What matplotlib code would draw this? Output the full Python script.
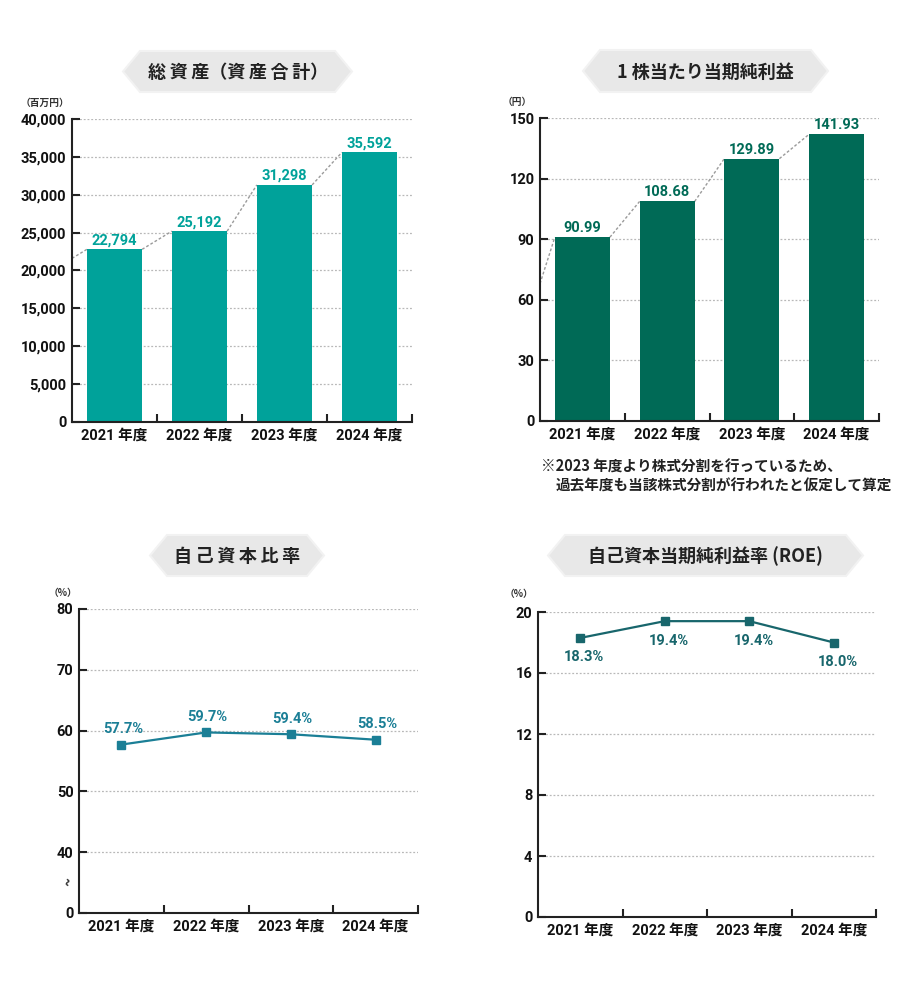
import matplotlib
matplotlib.use('Agg')
import matplotlib.pyplot as plt
from matplotlib.patches import Polygon
from matplotlib.ticker import FixedLocator

# ---------------- data ----------------
years = ['2021 年度', '2022 年度', '2023 年度', '2024 年度']

total_assets = [22794, 25192, 31298, 35592]          # 百万円
total_assets_lead = 21600                             # dotted guide value at left axis
total_assets_ticks = [0, 5000, 10000, 15000, 20000, 25000, 30000, 35000, 40000]

eps = [90.99, 108.68, 129.89, 141.93]                 # 円
eps_lead = 68                                         # dotted guide value at left axis
eps_ticks = [0, 30, 60, 90, 120, 150]

equity_ratio = [57.7, 59.7, 59.4, 58.5]               # %
equity_ticks = [30, 40, 50, 60, 70, 80]
equity_ticklabels = ['0', '40', '50', '60', '70', '80']

roe = [18.3, 19.4, 19.4, 18.0]                        # %
roe_ticks = [0, 4, 8, 12, 16, 20]

TS = '\u2009'
titles = [TS.join('総資産') + '（' + TS.join('資産合計') + '）', '1 株当たり当期純利益',
          TS.join('自己資本比率'), '自己資本当期純利益率 (ROE)']
units = ['（百万円）', '（円）', '（%）', '（%）']
footnote = ['※2023 年度より株式分割を行っているため、', '過去年度も当該株式分割が行われたと仮定して算定']

# ---------------- style ----------------
W, H = 909, 1000
C_ASSETS = '#00a29a'
C_EPS = '#006a56'
C_EQ = '#1b7f96'
C_ROE = '#18666c'
C_AXIS = '#222222'
C_GRID = '#b8b8b8'
BAR_W = 0.65

plt.rcParams['font.family'] = ['Roboto', 'Noto Sans CJK JP', 'DejaVu Sans']
plt.rcParams['font.weight'] = 'bold'

fig = plt.figure(figsize=(W / 100, H / 100), dpi=100)

# overlay for banners and free text (pixel coordinates)
ov = fig.add_axes([0, 0, 1, 1])
ov.set_xlim(0, W)
ov.set_ylim(H, 0)
ov.axis('off')
ov.patch.set_alpha(0)


def rect(l, t, r, b):
    return [l / W, 1 - b / H, (r - l) / W, (b - t) / H]


def banner(x0, x1, y0, y1, text, dx=0):
    d = 17
    yc = (y0 + y1) / 2
    pts = [(x0, yc), (x0 + d, y0), (x1 - d, y0), (x1, yc), (x1 - d, y1), (x0 + d, y1)]
    ov.add_patch(Polygon(pts, closed=True, facecolor='#e8e8e8', edgecolor='#f2f2f2', lw=1.5))
    ov.text((x0 + x1) / 2 + dx, yc + 1, text, ha='center', va='center', fontsize=13,
            color='#222222', fontweight='bold',
            family=['Noto Sans CJK JP', 'DejaVu Sans'])


def style_axes(ax, ticks, ticklabels, ylim):
    ax.set_xlim(-0.5, 3.5)
    ax.set_ylim(*ylim)
    for s in ['top', 'right']:
        ax.spines[s].set_visible(False)
    for s in ['left', 'bottom']:
        ax.spines[s].set_color(C_AXIS)
        ax.spines[s].set_linewidth(1.5)
    ax.set_yticks(ticks)
    ax.set_yticklabels(ticklabels)
    ax.tick_params(axis='y', direction='in', length=6, width=1.5, color=C_AXIS,
                   pad=4, labelsize=10.5, labelcolor='#111111')
    ax.set_xticks(range(len(years)))
    ax.set_xticklabels(years)
    ax.tick_params(axis='x', which='major', length=0, pad=5, labelsize=10.5,
                   labelcolor='#111111')
    ax.xaxis.set_minor_locator(FixedLocator([0.5, 1.5, 2.5, 3.5]))
    ax.tick_params(axis='x', which='minor', direction='in', length=6, width=1.5,
                   color=C_AXIS)
    for t in ticks[1:]:
        ax.axhline(t, color=C_GRID, lw=0.9, ls=(0, (1.5, 1.5)), zorder=0.5)
    ax.patch.set_alpha(0)


def guide(ax, vals, lead):
    xs = [-0.5, -BAR_W / 2]
    ys = [lead, vals[0]]
    for i in range(len(vals) - 1):
        xs += [float('nan'), i + BAR_W / 2, i + 1 - BAR_W / 2]
        ys += [float('nan'), vals[i], vals[i + 1]]
    ax.plot(xs, ys, color='#9a9a9a', lw=1.0, ls=(0, (2, 1.5)), zorder=1, clip_on=False)


x = list(range(len(years)))

# ---------- chart 1: total assets ----------
ax1 = fig.add_axes(rect(72, 119, 412, 422))
style_axes(ax1, total_assets_ticks, [f'{v:,}' for v in total_assets_ticks], (0, 40000))
ax1.bar(x, total_assets, width=BAR_W, color=C_ASSETS, zorder=2)
guide(ax1, total_assets, total_assets_lead)
for xi, v in zip(x, total_assets):
    ax1.annotate(f'{v:,}', (xi, v), xytext=(0, 1.5), textcoords='offset points',
                 ha='center', va='bottom', fontsize=10.5, color=C_ASSETS, fontweight='bold')

# ---------- chart 2: EPS ----------
ax2 = fig.add_axes(rect(540, 118, 879, 421))
style_axes(ax2, eps_ticks, [str(v) for v in eps_ticks], (0, 150))
ax2.bar(x, eps, width=BAR_W, color=C_EPS, zorder=2)
guide(ax2, eps, eps_lead)
for xi, v in zip(x, eps):
    ax2.annotate(f'{v:.2f}', (xi, v), xytext=(0, 1.5), textcoords='offset points',
                 ha='center', va='bottom', fontsize=10.5, color=C_EPS, fontweight='bold')

# ---------- chart 3: equity ratio ----------
ax3 = fig.add_axes(rect(79, 609, 418, 913))
style_axes(ax3, equity_ticks, equity_ticklabels, (30, 80))
ax3.plot(x, equity_ratio, color=C_EQ, lw=1.6, marker='s', ms=5.5, zorder=3)
for xi, v in zip(x, equity_ratio):
    ax3.annotate(f'{v:.1f}%', (xi, v), xytext=(1, 11), textcoords='offset points',
                 ha='center', va='center', fontsize=10.5, color=C_EQ, fontweight='bold')

# ---------- chart 4: ROE ----------
ax4 = fig.add_axes(rect(538, 612, 876, 917))
style_axes(ax4, roe_ticks, [str(v) for v in roe_ticks], (0, 20))
ax4.plot(x, roe, color=C_ROE, lw=1.6, marker='s', ms=5.5, zorder=3)
for xi, v in zip(x, roe):
    ax4.annotate(f'{v:.1f}%', (xi, v), xytext=(3, -14), textcoords='offset points',
                 ha='center', va='center', fontsize=10.5, color=C_ROE, fontweight='bold')

# ---------- banners ----------
banner(123, 352, 51, 92, titles[0], dx=1)
banner(583, 828, 50, 92, titles[1])
banner(150, 324, 535, 576, titles[2])
banner(548, 863, 535, 576, titles[3])

# ---------- units ----------
unit_kw = dict(fontsize=7, color='#333333', fontweight='bold', va='center', ha='right',
               family=['Noto Sans CJK JP', 'DejaVu Sans'])
ov.text(69, 103, units[0], **unit_kw)
ov.text(532, 102, units[1], **unit_kw)
ov.text(77, 593, units[2], **unit_kw)
ov.text(533, 594, units[3], **unit_kw)

# axis break mark
ov.text(68, 882, '~', fontsize=9, color='#333333', ha='center', va='center', rotation=75)

# ---------- footnote ----------
fn_kw = dict(fontsize=10.5, color='#222222', fontweight='bold', va='center', ha='left',
             family=['Noto Sans CJK JP', 'DejaVu Sans'])
ov.text(541, 467, footnote[0], **fn_kw)
ov.text(556, 486, footnote[1], **fn_kw)

fig.savefig('out.png', dpi=100)
